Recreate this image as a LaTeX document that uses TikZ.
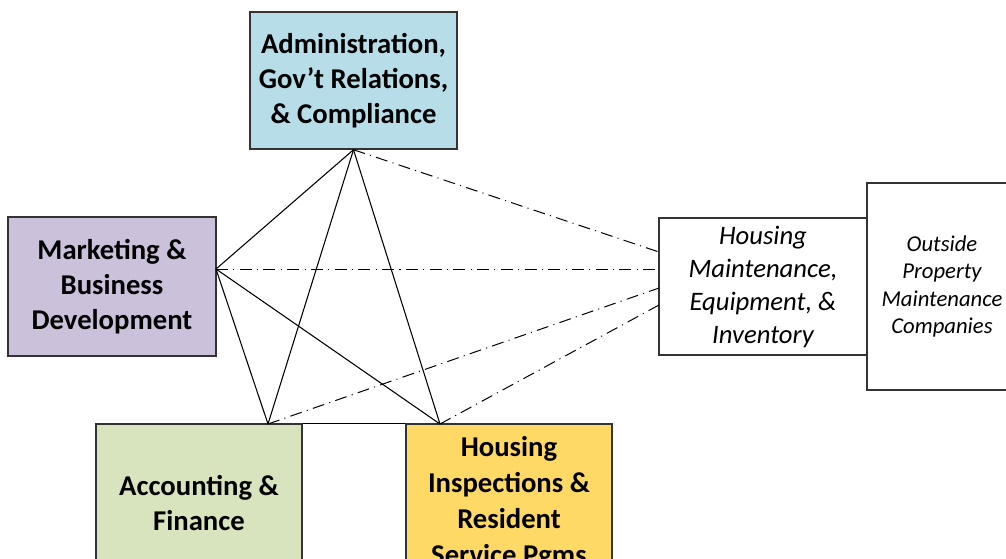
\documentclass[tikz,border=0pt]{standalone}
\usepackage{fontspec}
\setmainfont{Carlito}
\begin{document}
\begin{tikzpicture}[x=0.75pt,y=-0.75pt,
  unit/.style={draw=black!80, line width=1.1pt, inner sep=0pt, align=center},
  dept/.style={unit, font=\bfseries\fontsize{21.5}{26.25}\selectfont},
  ext/.style={unit, fill=white, font=\itshape\fontsize{20}{24.75}\selectfont},
  outer/.style={unit, fill=white, font=\itshape\fontsize{17}{20.6}\selectfont},
  link/.style={line width=0.8pt},
  loose/.style={line width=0.75pt, dash pattern=on 9pt off 4pt on 0.8pt off 4pt}]
\useasboundingbox (0,0) rectangle (1006,558);
\clip (0,0) rectangle (1006,558);
\definecolor{adminblue}{HTML}{B7DDE8}
\definecolor{mktlilac}{HTML}{CCC1DA}
\definecolor{accgreen}{HTML}{D7E4BD}
\definecolor{hsggold}{HTML}{FFD966}

% departments
\node[dept, fill=adminblue, minimum width=155.25pt, minimum height=102.75pt] (adm) at (353.5,80.5)
  {Administration,\\Gov’t Relations,\\\& Compliance};
\node[dept, fill=mktlilac, minimum width=156pt, minimum height=104pt] (mkt) at (112,286.5)
  {Marketing \&\\Business\\Development};
\node[dept, fill=accgreen, minimum width=154.5pt, minimum height=118.5pt] (acc) at (199,503)
  {Accounting \&\\Finance};
\node[dept, fill=hsggold, minimum width=154.5pt, minimum height=118.5pt,
  font=\bfseries\fontsize{21.5}{27}\selectfont] (hsg) at (509,503)
  {Housing\\Inspections \&\\Resident\\Service Pgms};

% outside and maintenance units
\node[outer, minimum width=112.5pt, minimum height=155.25pt] (out) at (942,286.5)
  {Outside\\Property\\Maintenance\\Companies};
\node[ext, minimum width=156pt, minimum height=102.75pt] (mnt) at (763,286.5)
  {Housing\\Maintenance,\\Equipment, \&\\Inventory};

% connection points on the box borders
\coordinate (pa) at (adm.south);
\coordinate (pm) at (216,269);
\coordinate (pc) at (268,424);
\coordinate (ph) at (440,424);
\coordinate (q1) at (659,252);
\coordinate (q2) at (659,269);
\coordinate (q3) at (659,288);
\coordinate (q4) at (659,305);

% solid links between departments
\draw[link] (pa) -- (pm);
\draw[link] (pa) -- (pc);
\draw[link] (pa) -- (ph);
\draw[link] (pm) -- (pc);
\draw[link] (pm) -- (ph);
\draw[link] (acc.north east) -- (hsg.north west);

% dash-dot links to maintenance
\draw[loose] (pa) -- (q1);
\draw[loose] (pm) -- (q2);
\draw[loose] (pc) -- (q3);
\draw[loose] (ph) -- (q4);
\end{tikzpicture}
\end{document}
